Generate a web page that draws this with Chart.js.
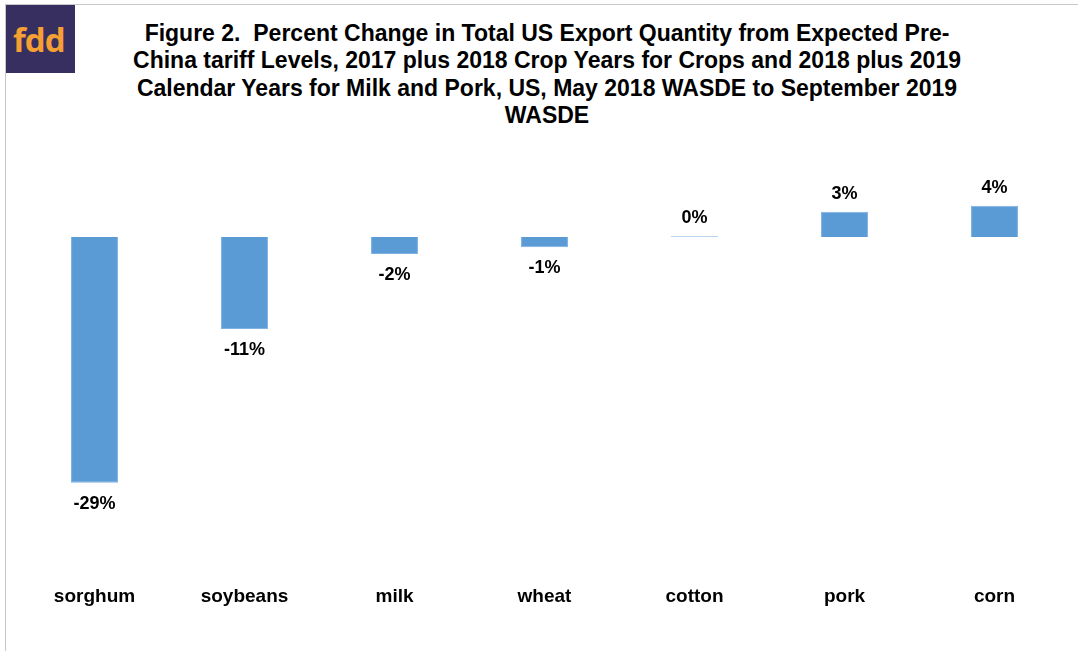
<!DOCTYPE html>
<html><head><meta charset="utf-8">
<script src="https://cdn.jsdelivr.net/npm/chart.js@4"></script>
<style>
html,body{margin:0;padding:0;background:#fff;width:1078px;height:651px;overflow:hidden;font-family:"Liberation Sans",Arial,sans-serif;}
#frame{position:absolute;left:5px;top:4px;width:1090px;height:660px;border:1px solid #c8c8c8;box-sizing:border-box;}
#logo{position:absolute;left:6px;top:5px;width:69px;height:68px;background:#372f5f;}
#logo span{position:absolute;left:7px;top:15px;color:#f6a033;font-family:"Open Sans","DejaVu Sans",sans-serif;font-weight:700;font-size:33px;line-height:40px;letter-spacing:-1px;}
#title{position:absolute;left:47px;width:1000px;top:20px;text-align:center;font-weight:bold;font-size:23px;line-height:27.4px;color:#000;}
#wrap{position:absolute;left:0;top:0;width:1078px;height:651px;}
</style></head>
<body>
<div id="frame"></div>
<div id="logo"><span>fdd</span></div>
<div id="title">Figure 2.&nbsp; Percent Change in Total US Export Quantity from Expected Pre-<br>China tariff Levels, 2017 plus 2018 Crop Years for Crops and 2018 plus 2019<br>Calendar Years for Milk and Pork, US, May 2018 WASDE to September 2019<br>WASDE</div>
<div id="wrap"><canvas id="c" width="1078" height="651"></canvas></div>
<script>
const categories = ["sorghum","soybeans","milk","wheat","cotton","pork","corn"];
const pctChange = [-29.0, -10.85, -2.0, -1.2, 0.1, 3.0, 3.7];

const labelPlugin = {
  id: 'valueLabels',
  afterDatasetsDraw(chart) {
    const ctx = chart.ctx;
    const meta = chart.getDatasetMeta(0);
    ctx.save();
    ctx.font = 'bold 18px "Liberation Sans", Arial, sans-serif';
    ctx.fillStyle = '#000';
    ctx.textAlign = 'center';
    ctx.textBaseline = 'middle';
    meta.data.forEach((bar, i) => {
      const v = pctChange[i];
      const txt = Math.round(v) + '%';
      const y = v >= 0 ? Math.min(bar.y, bar.base) - 18 : Math.max(bar.y, bar.base) + 21;
      ctx.fillText(txt, bar.x, y);
    });
    ctx.restore();
  }
};

new Chart(document.getElementById('c'), {
  type: 'bar',
  data: {
    labels: categories,
    datasets: [{
      data: pctChange,
      backgroundColor: '#5b9bd5',
      borderColor: '#7eb2e2',
      borderWidth: 1,
      barPercentage: 0.313,
      categoryPercentage: 1.0
    }]
  },
  options: {
    responsive: false,
    animation: false,
    layout: { padding: { left: 19.5, right: 8.5, top: 186.3, bottom: 21 } },
    plugins: { legend: { display: false }, tooltip: { enabled: false }, title: { display: false } },
    scales: {
      x: {
        grid: { display: false, drawTicks: false },
        border: { display: false },
        ticks: { color: '#000', font: { family: '"Liberation Sans", Arial, sans-serif', weight: 'bold', size: 19 }, padding: 22 }
      },
      y: { display: false, min: -38.5, max: 6 }
    }
  },
  plugins: [labelPlugin]
});
</script>
</body></html>
